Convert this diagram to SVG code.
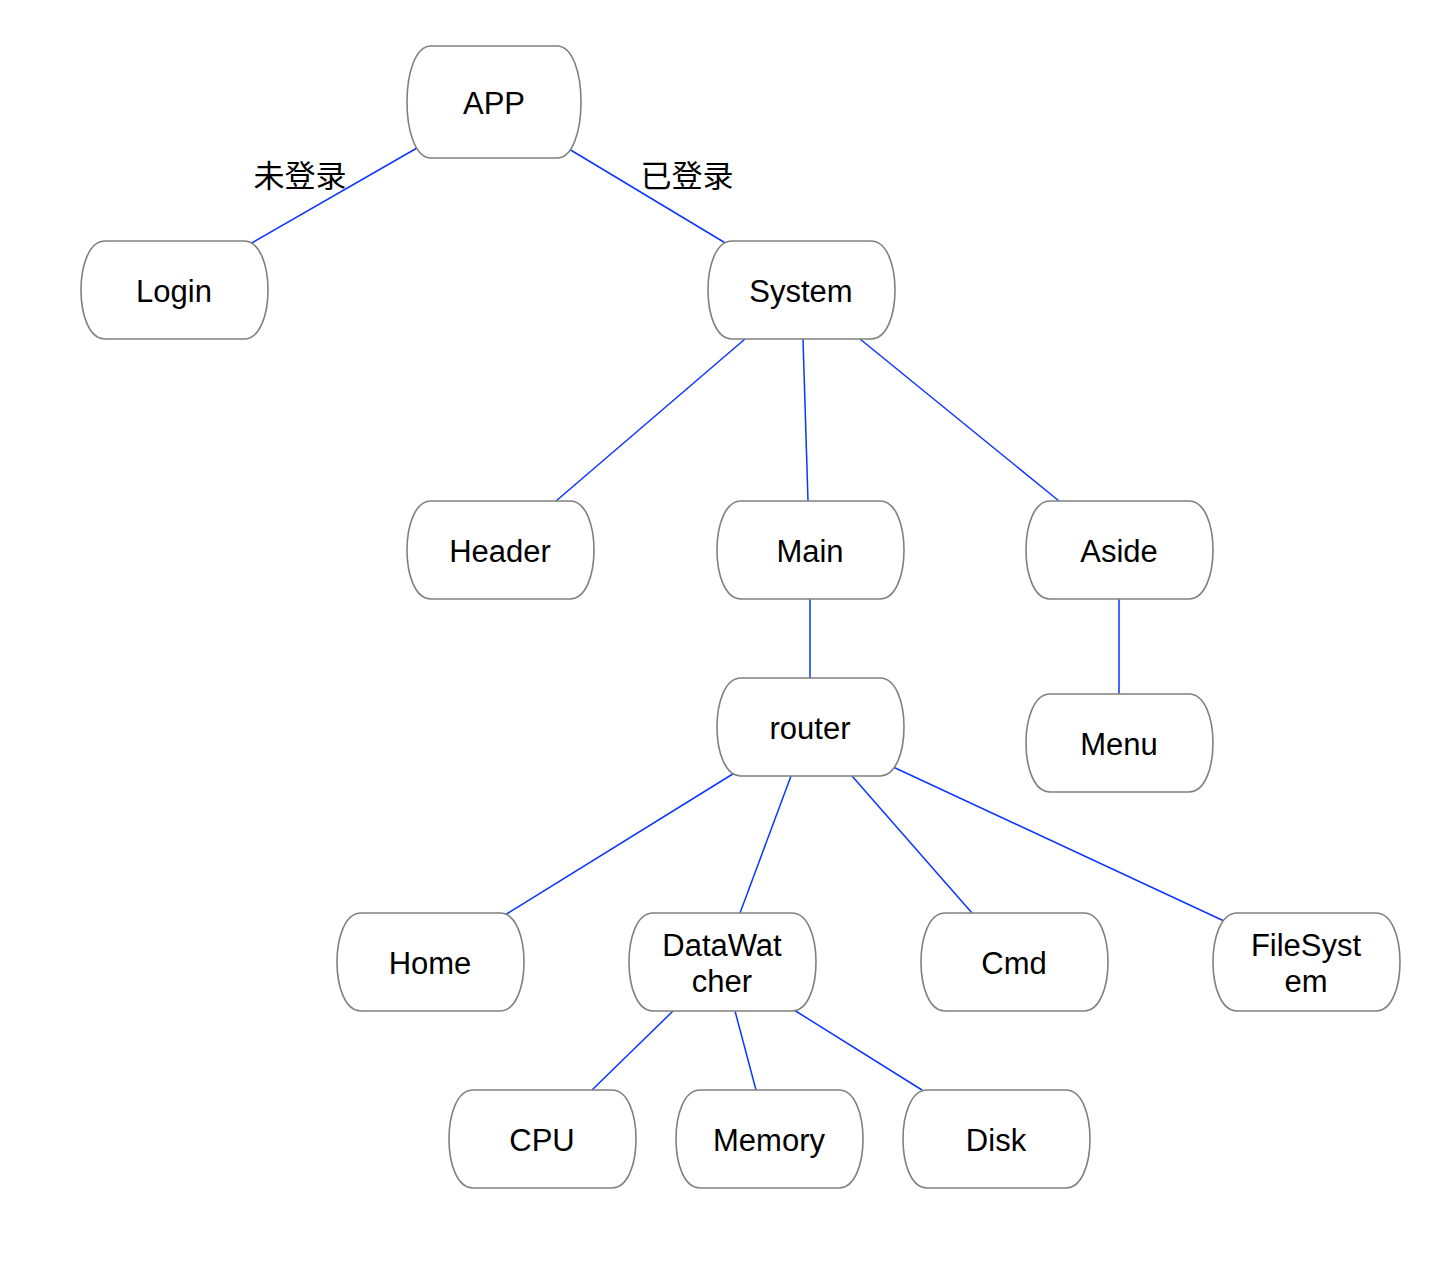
<svg xmlns="http://www.w3.org/2000/svg" width="1450" height="1274" viewBox="0 0 1450 1274">
<style>
.n{fill:#fff;stroke:#808080;stroke-width:1.6}
.t{font-family:"Liberation Sans",Arial,sans-serif;font-size:31px;fill:#000;text-anchor:middle;dominant-baseline:central}
.l{font-family:"Liberation Sans","Noto Sans CJK SC",sans-serif;font-size:31px;fill:#000;text-anchor:middle;dominant-baseline:central}
.e{stroke:#0a36ff;stroke-width:1.5;fill:none}
</style>
<rect width="1450" height="1274" fill="#fff"/>
<g id="connectors">
<line class="e" x1="417" y1="148" x2="250" y2="244"/>
<line class="e" x1="569" y1="149" x2="727" y2="244"/>
<line class="e" x1="745" y1="339" x2="556" y2="501"/>
<line class="e" x1="803" y1="339" x2="808" y2="501"/>
<line class="e" x1="860" y1="339" x2="1059" y2="501"/>
<line class="e" x1="810" y1="599" x2="810" y2="678"/>
<line class="e" x1="1119" y1="599" x2="1119" y2="694"/>
<line class="e" x1="736" y1="772" x2="505" y2="915"/>
<line class="e" x1="791" y1="776" x2="740" y2="913"/>
<line class="e" x1="852" y1="776" x2="972" y2="913"/>
<line class="e" x1="891" y1="766" x2="1224" y2="921"/>
<line class="e" x1="673" y1="1011" x2="592" y2="1090"/>
<line class="e" x1="735" y1="1011" x2="756" y2="1090"/>
<line class="e" x1="794" y1="1010" x2="922" y2="1090"/>
<text class="l" x="300" y="176">未登录</text>
<text class="l" x="687" y="176">已登录</text>
</g>
<g id="APP"><path class="n" d="M431,46 L557,46 C589,46 589,158 557,158 L431,158 C399,158 399,46 431,46 Z"/><text class="t" x="494" y="103">APP</text></g>
<g id="Login"><path class="n" d="M105,241 L244,241 C276,241 276,339 244,339 L105,339 C73,339 73,241 105,241 Z"/><text class="t" x="174" y="291">Login</text></g>
<g id="System"><path class="n" d="M732,241 L871,241 C903,241 903,339 871,339 L732,339 C700,339 700,241 732,241 Z"/><text class="t" x="801" y="291">System</text></g>
<g id="Header"><path class="n" d="M431,501 L570,501 C602,501 602,599 570,599 L431,599 C399,599 399,501 431,501 Z"/><text class="t" x="500" y="551">Header</text></g>
<g id="Main"><path class="n" d="M741,501 L880,501 C912,501 912,599 880,599 L741,599 C709,599 709,501 741,501 Z"/><text class="t" x="810" y="551">Main</text></g>
<g id="Aside"><path class="n" d="M1050,501 L1189,501 C1221,501 1221,599 1189,599 L1050,599 C1018,599 1018,501 1050,501 Z"/><text class="t" x="1119" y="551">Aside</text></g>
<g id="router"><path class="n" d="M741,678 L880,678 C912,678 912,776 880,776 L741,776 C709,776 709,678 741,678 Z"/><text class="t" x="810" y="728">router</text></g>
<g id="Menu"><path class="n" d="M1050,694 L1189,694 C1221,694 1221,792 1189,792 L1050,792 C1018,792 1018,694 1050,694 Z"/><text class="t" x="1119" y="744">Menu</text></g>
<g id="Home"><path class="n" d="M361,913 L500,913 C532,913 532,1011 500,1011 L361,1011 C329,1011 329,913 361,913 Z"/><text class="t" x="430" y="963">Home</text></g>
<g id="DataWatcher"><path class="n" d="M653,913 L792,913 C824,913 824,1011 792,1011 L653,1011 C621,1011 621,913 653,913 Z"/><text class="t" x="722" y="945">DataWat</text><text class="t" x="722" y="981">cher</text></g>
<g id="Cmd"><path class="n" d="M945,913 L1084,913 C1116,913 1116,1011 1084,1011 L945,1011 C913,1011 913,913 945,913 Z"/><text class="t" x="1014" y="963">Cmd</text></g>
<g id="FileSystem"><path class="n" d="M1237,913 L1376,913 C1408,913 1408,1011 1376,1011 L1237,1011 C1205,1011 1205,913 1237,913 Z"/><text class="t" x="1306" y="945">FileSyst</text><text class="t" x="1306" y="981">em</text></g>
<g id="CPU"><path class="n" d="M473,1090 L612,1090 C644,1090 644,1188 612,1188 L473,1188 C441,1188 441,1090 473,1090 Z"/><text class="t" x="542" y="1140">CPU</text></g>
<g id="Memory"><path class="n" d="M700,1090 L839,1090 C871,1090 871,1188 839,1188 L700,1188 C668,1188 668,1090 700,1090 Z"/><text class="t" x="769" y="1140">Memory</text></g>
<g id="Disk"><path class="n" d="M927,1090 L1066,1090 C1098,1090 1098,1188 1066,1188 L927,1188 C895,1188 895,1090 927,1090 Z"/><text class="t" x="996" y="1140">Disk</text></g>
</svg>
